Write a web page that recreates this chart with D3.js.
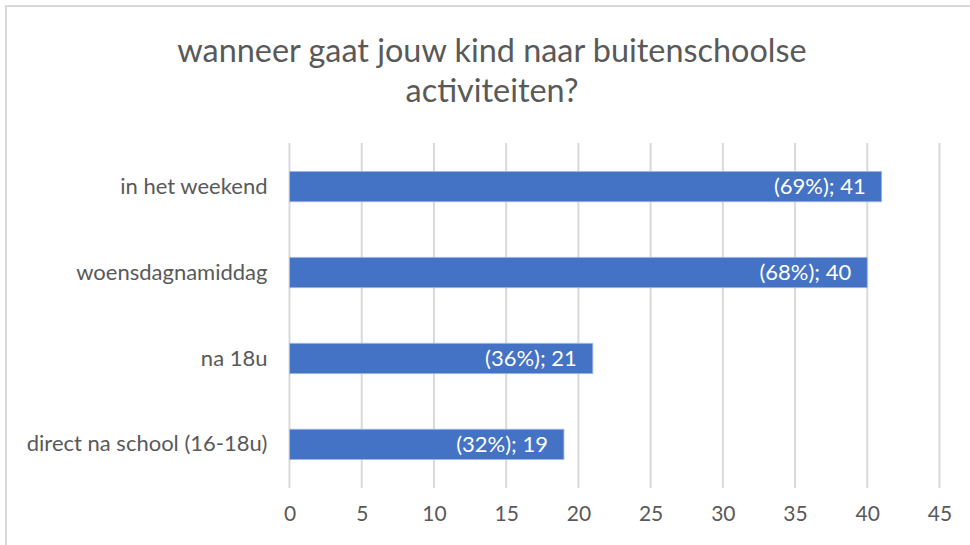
<!DOCTYPE html>
<html>
<head>
<meta charset="utf-8">
<script src="https://cdn.jsdelivr.net/npm/d3@7"></script>
<style>
html,body{margin:0;padding:0;background:#fff;}
svg{display:block;}
</style>
</head>
<body>
<svg id="chart" width="970" height="545"></svg>
<script>
const categories = ["in het weekend", "woensdagnamiddag", "na 18u", "direct na school (16-18u)"];
const values = [41, 40, 21, 19];
const percents = ["69%", "68%", "36%", "32%"];
const tickValues = [0, 5, 10, 15, 20, 25, 30, 35, 40, 45];
const titleLines = ["wanneer gaat jouw kind naar buitenschoolse", "activiteiten?"];

const svg = d3.select("#chart");
const font = "Lato, 'Open Sans', sans-serif";

// chart border (top & left visible)
svg.append("line").attr("x1", 6).attr("x2", 970).attr("y1", 6).attr("y2", 6)
  .attr("stroke", "#d9d9d9").attr("stroke-width", 2);
svg.append("line").attr("x1", 6).attr("x2", 6).attr("y1", 5).attr("y2", 545)
  .attr("stroke", "#d9d9d9").attr("stroke-width", 2);

const plotLeft = 289.5, plotRight = 939.5, plotTop = 143, plotBottom = 488;

const x = d3.scaleLinear().domain([0, 45]).range([plotLeft, plotRight]);
const y = d3.scaleBand().domain(categories).range([plotTop, plotBottom]).paddingInner(0.646).paddingOuter(0.33);

// title
svg.append("text").attr("x", 485).attr("y", 0)
  .attr("text-anchor", "middle").attr("fill", "#595959")
  .style("font-family", font).style("font-size", "32.4px")
  .selectAll("tspan").data(titleLines).join("tspan")
  .attr("x", 492).attr("y", (d, i) => 62 + i * 40).text(d => d);

// gridlines
svg.append("g").selectAll("line").data(tickValues).join("line")
  .attr("x1", d => x(d)).attr("x2", d => x(d))
  .attr("y1", plotTop).attr("y2", plotBottom)
  .attr("stroke", "#d9d9d9").attr("stroke-width", 2);

// x axis labels
const xAxis = d3.axisBottom(x).tickValues(tickValues).tickSize(0).tickPadding(0);
const gx = svg.append("g").attr("transform", `translate(0,${plotBottom + 18})`).call(xAxis);
gx.select(".domain").remove();
gx.selectAll("text").attr("fill", "#595959").attr("dy", "0.71em")
  .style("font-family", font).style("font-size", "21px");

// y axis labels
const yAxis = d3.axisLeft(y).tickSize(0).tickPadding(0);
const gy = svg.append("g").attr("transform", `translate(${plotLeft - 22},0)`).call(yAxis);
gy.select(".domain").remove();
gy.selectAll("text").attr("fill", "#595959")
  .style("font-family", font).style("font-size", "22px");

// bars
const data = categories.map((c, i) => ({c, v: values[i], p: percents[i]}));
svg.append("g").selectAll("rect").data(data).join("rect")
  .attr("x", x(0)).attr("y", d => y(d.c))
  .attr("width", d => x(d.v) - x(0)).attr("height", y.bandwidth())
  .attr("fill", "#4472c4").attr("stroke", "#a6bde6").attr("stroke-width", 0.8);

// labels
svg.append("g").selectAll("text").data(data).join("text")
  .attr("x", d => x(d.v) - 16).attr("y", d => y(d.c) + y.bandwidth() / 2)
  .attr("dy", "0.35em").attr("text-anchor", "end").attr("fill", "#ffffff")
  .style("font-family", font).style("font-size", "22px")
  .text(d => `(${d.p}); ${d.v}`);
</script>
</body>
</html>
